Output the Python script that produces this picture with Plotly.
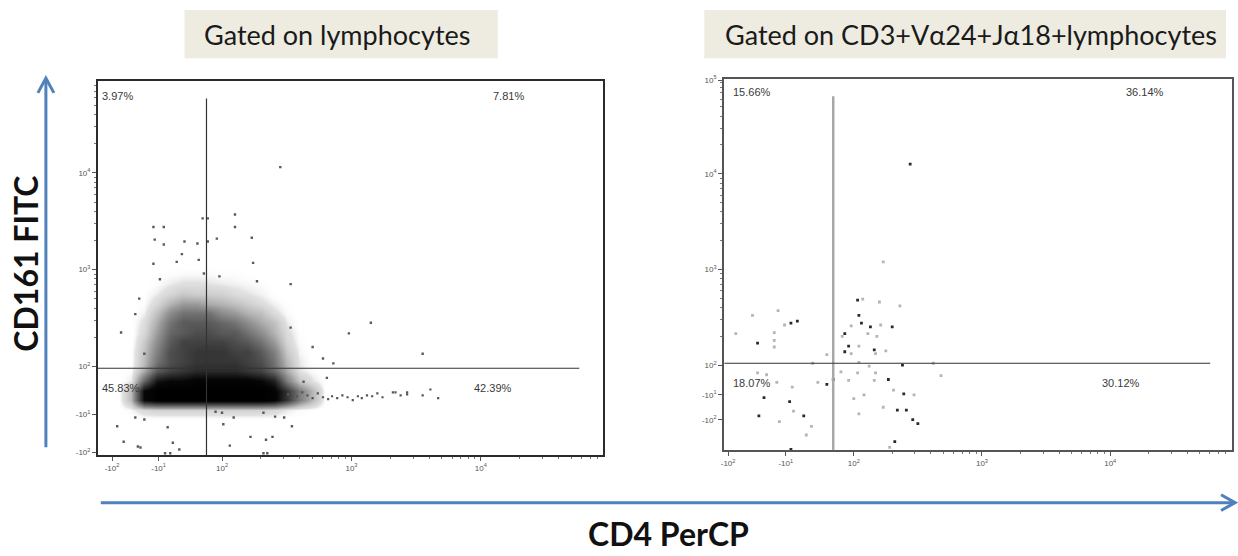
import math
import plotly.graph_objects as go

W, H = 1238, 556

# ---------------------------------------------------------------------------
# Display scale: positive values in log decades (10^2 -> 2, 10^3 -> 3 ...),
# negative values squeezed into the low end of the axis (biexponential style).
# ---------------------------------------------------------------------------
SUP = lambda s, e: f"{s}10<sup>{e}</sup>"

left_xtick_vals = [1.15, 1.51, 2.0, 3.0, 4.0]
left_xtick_text = [SUP("-", 2), SUP("-", 1), SUP("", 2), SUP("", 3), SUP("", 4)]
left_ytick_vals = [1.11, 1.50, 2.0, 3.0, 4.0]
left_ytick_text = [SUP("-", 2), SUP("-", 1), SUP("", 2), SUP("", 3), SUP("", 4)]

right_xtick_vals = [1.02, 1.47, 2.0, 3.0, 4.0]
right_xtick_text = [SUP("-", 2), SUP("-", 1), SUP("", 2), SUP("", 3), SUP("", 4)]
right_ytick_vals = [1.43, 1.69, 2.0, 3.0, 4.0, 4.98]
right_ytick_text = [SUP("-", 2), SUP("-", 1), SUP("", 2), SUP("", 3), SUP("", 4), SUP("", 5)]

left_xrange, left_yrange = [1.04, 4.94], [1.08, 4.95]
right_xrange, right_yrange = [0.99, 4.95], [1.11, 4.99]

# quadrant gates (display units)
left_gate_x, left_gate_y = 1.88, 1.98
right_gate_x, right_gate_y = 1.84, 2.02

# quadrant frequencies
left_quadrants = {"UL": "3.97%", "UR": "7.81%", "LL": "45.83%", "LR": "42.39%"}
right_quadrants = {"UL": "15.66%", "UR": "36.14%", "LL": "18.07%", "LR": "30.12%"}

# ---------------------------------------------------------------------------
# Lymphocyte gate: event density on a 0.1-decade grid (0 = empty, 10 = saturated)
# ---------------------------------------------------------------------------
dens_x = [1.2, 1.3, 1.4, 1.5, 1.6, 1.7, 1.8, 1.9, 2.0, 2.1, 2.2, 2.3, 2.4, 2.5,
          2.6, 2.7, 2.8]
dens_y = [1.45, 1.55, 1.65, 1.75, 1.85, 1.95, 2.05, 2.15, 2.25, 2.35, 2.45, 2.55,
          2.65, 2.75, 2.85, 2.95, 3.05]
dens_z = [
    [0] * 17,
    [0, 0.3, 1, 1.2, 1.2, 1.2, 1.2, 1.2, 1.2, 1.2, 1.2, 1.2, 1, 0.5, 0.2, 0.1, 0],
    [0, 2, 9, 10, 10, 10, 10, 10, 10, 10, 10, 10, 9.5, 7, 4, 2, 0],
    [0, 2, 9, 10, 10, 10, 10, 10, 10, 10, 10, 10, 9.5, 7, 4, 2, 0],
    [0, 0.5, 5, 8.5, 9, 9, 9.5, 9.5, 9.5, 9.5, 9.5, 9, 8, 4, 1.5, 0.6, 0],
    [0, 0.2, 2.5, 5.5, 6.5, 7, 7.5, 7.5, 7.5, 7.5, 7, 6.5, 5, 2.5, 0.6, 0.2, 0],
    [0, 0.1, 2, 4.5, 6, 6.5, 7, 7, 7, 7, 6.5, 6, 4.5, 2, 0.5, 0.1, 0],
    [0, 0.1, 1.8, 4, 6, 6.5, 7, 7, 7, 6.5, 6.5, 5.5, 4, 1.5, 0.3, 0, 0],
    [0, 0, 1.5, 3.5, 5.5, 6.5, 6.5, 6.5, 6.5, 6, 5.5, 4.5, 3, 1, 0.2, 0, 0],
    [0, 0, 1, 3, 5, 5.5, 6, 6, 5.5, 5.5, 4.5, 3.5, 2.2, 0.8, 0.1, 0, 0],
    [0, 0, 0.8, 2.5, 4.5, 5.5, 5.5, 5.5, 5, 4.5, 3.5, 2.5, 1.8, 0.5, 0, 0, 0],
    [0, 0, 0.4, 1.8, 3.5, 4.5, 4.5, 4.5, 3.5, 3, 2.2, 1.8, 0.8, 0.2, 0, 0, 0],
    [0, 0, 0.2, 1, 2.2, 3, 3, 2.5, 2.2, 1.8, 1.3, 0.8, 0.4, 0.1, 0, 0, 0],
    [0, 0, 0.1, 0.5, 1, 1.5, 1.3, 1.3, 1.2, 0.8, 0.6, 0.4, 0.1, 0, 0, 0, 0],
    [0, 0, 0, 0.2, 0.5, 0.7, 0.7, 0.6, 0.5, 0.4, 0.3, 0.2, 0, 0, 0, 0, 0],
    [0, 0, 0, 0.1, 0.2, 0.3, 0.3, 0.3, 0.2, 0.2, 0.1, 0, 0, 0, 0, 0, 0],
    [0] * 17,
]

# scattered single events around the main population
lym_x = [2.45, 2.10, 2.10, 1.85, 1.89, 1.47, 1.55, 2.23, 1.48, 1.55, 1.71, 1.81,
         1.89, 1.96, 1.69, 1.47, 2.24, 1.82, 1.65, 1.86, 1.98, 2.27, 2.53, 1.52,
         1.36, 1.33, 1.22, 2.53, 3.15, 2.98, 2.70, 2.78, 2.86, 3.55, 1.40, 1.19,
         1.33, 1.40, 1.58, 2.00, 2.01, 2.09, 2.48, 2.54, 2.22, 2.34, 2.39, 2.06,
         1.62, 1.35, 1.67, 1.56, 1.60, 2.32, 2.35, 2.81, 2.63, 1.95, 2.32, 2.41,
         1.24, 1.37]
lym_y = [4.06, 3.57, 3.44, 3.53, 3.53, 3.44, 3.44, 3.33, 3.31, 3.26, 3.29, 3.27,
         3.29, 3.32, 3.16, 3.06, 3.07, 3.10, 3.08, 2.96, 2.93, 2.88, 2.85, 2.90,
         2.70, 2.54, 2.35, 2.40, 2.45, 2.34, 2.20, 2.08, 2.03, 2.13, 2.13, 1.38,
         1.47, 1.45, 1.37, 1.52, 1.40, 1.47, 1.47, 1.38, 1.27, 1.24, 1.27, 1.18,
         1.21, 1.17, 1.14, 1.10, 1.10, 1.10, 1.10, 1.88, 1.84, 1.53, 1.52, 1.48,
         1.22, 1.16]

# CD4+ tail of the CD161- population
tail_x = [2.51, 2.55, 2.58, 2.62, 2.66, 2.70, 2.74, 2.78, 2.82, 2.85, 2.89, 2.93,
          2.97, 3.01, 3.05, 3.08, 3.12, 3.16, 3.20, 3.24, 3.32, 3.38, 3.43, 3.55,
          3.61, 3.67, 3.34, 3.43]
tail_y = [1.71, 1.73, 1.69, 1.73, 1.70, 1.67, 1.72, 1.68, 1.66, 1.69, 1.67, 1.70,
          1.68, 1.65, 1.69, 1.67, 1.70, 1.69, 1.72, 1.68, 1.73, 1.70, 1.71, 1.70,
          1.76, 1.67, 1.73, 1.73]

# ---------------------------------------------------------------------------
# CD3+ Va24+ Ja18+ gate: individual events
# ---------------------------------------------------------------------------
nkt_dark_x = [2.44, 2.03, 2.04, 2.06, 2.13, 2.30, 1.93, 1.96, 1.93, 2.16, 2.38,
              1.84, 1.79, 2.27, 2.39, 2.34, 2.41, 2.46, 2.50, 2.32, 1.51, 1.56,
              1.25, 1.30, 1.50, 1.26, 1.61, 1.51]
nkt_dark_y = [4.10, 2.68, 2.52, 2.44, 2.40, 2.40, 2.33, 2.20, 2.14, 2.16, 2.00,
              1.85, 1.80, 1.85, 1.70, 1.53, 1.53, 1.43, 1.39, 1.20, 2.44, 2.46,
              2.23, 1.66, 1.62, 1.47, 1.47, 1.12]
nkt_light_x = [2.23, 2.07, 2.20, 2.36, 2.21, 1.98, 1.91, 2.11, 2.18, 2.04, 1.98,
               2.17, 2.25, 1.79, 1.68, 2.04, 2.12, 2.62, 1.90, 2.03, 2.17, 2.68,
               1.72, 1.96, 2.16, 2.31, 2.47, 2.08, 2.00, 2.23, 2.04, 2.28, 1.08,
               1.21, 1.41, 1.46, 1.38, 1.38, 1.38, 1.25, 1.40, 1.52, 1.53, 1.42,
               1.67, 1.63, 1.32]
nkt_light_y = [3.08, 2.69, 2.66, 2.62, 2.42, 2.41, 2.30, 2.33, 2.30, 2.20, 2.12,
               2.12, 2.15, 2.11, 2.02, 2.03, 1.99, 2.02, 1.93, 1.92, 1.92, 1.89,
               1.82, 1.84, 1.84, 1.74, 1.69, 1.69, 1.65, 1.56, 1.49, 1.14, 2.33,
               2.52, 2.57, 2.42, 2.34, 2.26, 2.19, 1.92, 1.82, 1.77, 1.52, 1.41,
               1.36, 1.27, 1.90]

# ---------------------------------------------------------------------------
def px(x):
    return x / W


def py(y):
    return 1 - y / H


def minor_positions(lo_decade, hi_decade):
    return [k + math.log10(m) for k in range(lo_decade, hi_decade + 1) for m in range(2, 10)]


TICK_FONT = dict(family="Liberation Sans, Arial", size=8, color="#555555")
PCT_FONT = dict(family="Liberation Sans, Arial", size=11, color="#3a3a3a")

fig = go.Figure()

# lymphocyte panel
fig.add_trace(go.Heatmap(
    x=dens_x, y=dens_y, z=dens_z, zmin=0, zmax=10, zsmooth="best",
    colorscale=[[0, "rgba(255,255,255,0)"], [0.06, "rgba(220,220,220,0.85)"],
                [0.3, "#9a9a9a"], [0.5, "#666666"], [0.7, "#363636"],
                [0.9, "#080808"], [1, "#000000"]],
    showscale=False, hoverinfo="skip", xaxis="x", yaxis="y"))
fig.add_trace(go.Scatter(
    x=lym_x, y=lym_y, mode="markers", xaxis="x", yaxis="y",
    marker=dict(symbol="square", size=2.4, color="#5a5a5a", line_width=0),
    hoverinfo="skip", showlegend=False))
fig.add_trace(go.Scatter(
    x=tail_x, y=tail_y, mode="markers", xaxis="x", yaxis="y",
    marker=dict(symbol="square", size=2.2, color="#555555", line_width=0),
    hoverinfo="skip", showlegend=False))

# NKT panel
fig.add_trace(go.Scatter(
    x=nkt_light_x, y=nkt_light_y, mode="markers", xaxis="x2", yaxis="y2",
    marker=dict(symbol="square", size=2.8, color="#b4b4b4", line_width=0),
    hoverinfo="skip", showlegend=False))
fig.add_trace(go.Scatter(
    x=nkt_dark_x, y=nkt_dark_y, mode="markers", xaxis="x2", yaxis="y2",
    marker=dict(symbol="square", size=2.8, color="#2a2a2a", line_width=0),
    hoverinfo="skip", showlegend=False))


def axis(domain, rng, tickvals, ticktext, anchor, lw, lc, minor_vals):
    return dict(
        domain=domain, range=rng, anchor=anchor, tickmode="array",
        tickvals=tickvals, ticktext=ticktext, tickfont=TICK_FONT,
        ticks="outside", ticklen=4, tickwidth=1, tickcolor="#555555",
        showline=True, mirror=True, linecolor=lc, linewidth=lw,
        showgrid=False, zeroline=False, fixedrange=True,
        minor=dict(tickmode="array", tickvals=minor_vals, ticks="outside",
                   ticklen=2, tickcolor="#777777", showgrid=False),
    )


lx_dom = [px(95), px(601)]
ly_dom = [py(456), py(77)]
rx_dom = [px(723), px(1232)]
ry_dom = [py(451), py(75)]

fig.update_layout(
    width=W, height=H, margin=dict(l=0, r=0, t=0, b=0),
    paper_bgcolor="white", plot_bgcolor="white", showlegend=False,
    xaxis=axis(lx_dom, left_xrange, left_xtick_vals, left_xtick_text, "y", 1.5, "#2b2b2b",
               minor_positions(2, 4)),
    yaxis=axis(ly_dom, left_yrange, left_ytick_vals, left_ytick_text, "x", 1.5, "#2b2b2b",
               minor_positions(2, 4)),
    xaxis2=axis(rx_dom, right_xrange, right_xtick_vals, right_xtick_text, "y2", 2, "#555555",
                minor_positions(2, 4)),
    yaxis2=axis(ry_dom, right_yrange, right_ytick_vals, right_ytick_text, "x2", 2, "#555555",
                minor_positions(2, 4)),
)

shapes = []
# quadrant gates
shapes += [
    dict(type="line", xref="x", yref="y", x0=left_gate_x, x1=left_gate_x, y0=left_yrange[0], y1=4.77,
         line=dict(color="#333333", width=1.2), layer="above"),
    dict(type="line", xref="x", yref="y", x0=left_xrange[0], x1=4.76, y0=left_gate_y, y1=left_gate_y,
         line=dict(color="#333333", width=1.2), layer="above"),
    dict(type="line", xref="x2", yref="y2", x0=right_gate_x, x1=right_gate_x, y0=right_yrange[0], y1=4.81,
         line=dict(color="#a8a8a8", width=2.5), layer="above"),
    dict(type="line", xref="x2", yref="y2", x0=right_xrange[0], x1=4.78, y0=right_gate_y, y1=right_gate_y,
         line=dict(color="#333333", width=1.2), layer="above"),
]
# panel headers
BOX = "#EEECE1"
shapes += [
    dict(type="rect", xref="paper", yref="paper", x0=px(182), x1=px(496), y0=py(54), y1=py(5),
         fillcolor=BOX, line_width=0, layer="below"),
    dict(type="rect", xref="paper", yref="paper", x0=px(703), x1=px(1226), y0=py(54), y1=py(5),
         fillcolor=BOX, line_width=0, layer="below"),
]
# blue axis arrows
BLUE = "#4F81BD"
shapes += [
    dict(type="line", xref="paper", yref="paper", x0=px(43), x1=px(43), y0=py(448), y1=py(75),
         line=dict(color=BLUE, width=3)),
    dict(type="path", xref="paper", yref="paper",
         path=f"M {px(35)},{py(89)} L {px(43)},{py(74)} L {px(51)},{py(89)}",
         line=dict(color=BLUE, width=3)),
    dict(type="line", xref="paper", yref="paper", x0=px(98), x1=px(1233), y0=py(504), y1=py(504),
         line=dict(color=BLUE, width=3)),
    dict(type="path", xref="paper", yref="paper",
         path=f"M {px(1221)},{py(496)} L {px(1235)},{py(504)} L {px(1221)},{py(512)}",
         line=dict(color=BLUE, width=3)),
]
fig.update_layout(shapes=shapes)

ann = []


def pct(text, x, y, xr, yr):
    ann.append(dict(text=text, x=x, y=y, xref=xr, yref=yr, showarrow=False,
                    xanchor="left", yanchor="middle", font=PCT_FONT))


pct(left_quadrants["UL"], 1.06, 4.80, "x", "y")
pct(left_quadrants["UR"], 4.08, 4.80, "x", "y")
pct(left_quadrants["LL"], 1.06, 1.78, "x", "y")
pct(left_quadrants["LR"], 3.93, 1.78, "x", "y")
pct(right_quadrants["UL"], 1.04, 4.85, "x2", "y2")
pct(right_quadrants["UR"], 4.11, 4.85, "x2", "y2")
pct(right_quadrants["LL"], 1.04, 1.81, "x2", "y2")
pct(right_quadrants["LR"], 3.92, 1.81, "x2", "y2")

TITLE_FONT = dict(family="Lato, Carlito, Calibri, sans-serif", size=27, color="#1a1a1a")
ann += [
    dict(text="Gated on lymphocytes", x=px(335), y=py(30), xref="paper", yref="paper",
         showarrow=False, xanchor="center", yanchor="middle", font=TITLE_FONT),
    dict(text="Gated on CD3+Vα24+Jα18+lymphocytes", x=px(970), y=py(30), xref="paper",
         yref="paper", showarrow=False, xanchor="center", yanchor="middle", font=TITLE_FONT),
    dict(text="<b>CD161 FITC</b>", x=px(23), y=py(262), xref="paper", yref="paper",
         showarrow=False, textangle=-90, xanchor="center", yanchor="middle",
         font=dict(family="Lato, Carlito, Calibri, sans-serif", size=32, color="#111111")),
    dict(text="<b>CD4 PerCP</b>", x=px(667), y=py(535), xref="paper", yref="paper",
         showarrow=False, xanchor="center", yanchor="middle",
         font=dict(family="Lato, Carlito, Calibri, sans-serif", size=32, color="#111111")),
]
fig.update_layout(annotations=ann)

fig.write_html("out.html", config=dict(displayModeBar=False))
